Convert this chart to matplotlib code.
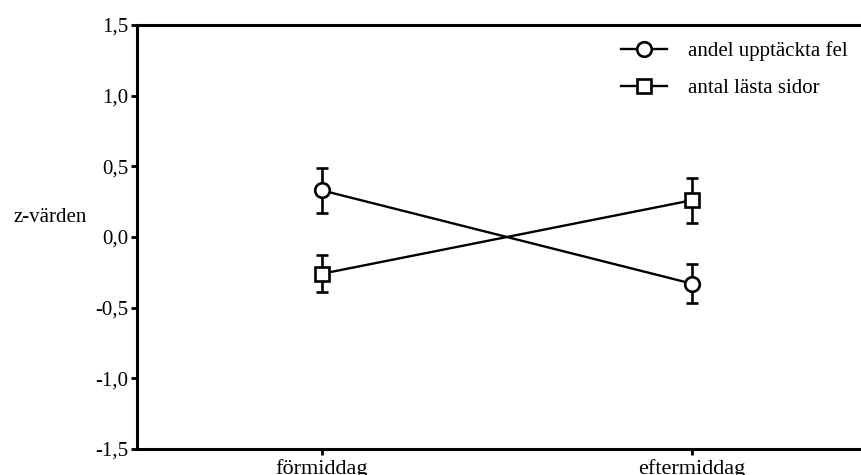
import matplotlib.pyplot as plt

plt.rcParams['font.family'] = ['Liberation Serif', 'DejaVu Serif']

# data
tider = ['förmiddag', 'eftermiddag']
fel_medel = [0.33, -0.33]
fel_err = [0.16, 0.14]
sidor_medel = [-0.26, 0.26]
sidor_err = [0.13, 0.16]
y_ticks = [-1.5, -1.0, -0.5, 0.0, 0.5, 1.0, 1.5]
y_labels = ['-1,5', '-1,0', '-0,5', '0,0', '0,5', '1,0', '1,5']

fig = plt.figure(figsize=(8.62, 4.75), dpi=100)
ax = fig.add_axes([137 / 862, 26 / 475, 725 / 862, 424 / 475])

x = list(range(len(tider)))
style = dict(color='black', lw=1.7, ms=10.5, mfc='white', mec='black', mew=1.9,
             ecolor='black', elinewidth=1.9, capsize=4, capthick=2.2)
c1 = ax.errorbar(x, fel_medel, yerr=fel_err, marker='o', label='andel upptäckta fel', **style)
c2 = ax.errorbar(x, sidor_medel, yerr=sidor_err, marker='s', label='antal lästa sidor', **style)

ax.set_xlim(-0.5, 1.46)
ax.set_ylim(-1.5, 1.5)
ax.set_xticks(x)
ax.set_xticklabels(tider)
ax.set_yticks(y_ticks)
ax.set_yticklabels(y_labels)

for side in ['left', 'top', 'bottom']:
    ax.spines[side].set_linewidth(2.2)
ax.spines['right'].set_visible(False)
ax.tick_params(axis='both', width=2, length=4.5, pad=1.5)
ax.tick_params(axis='y', labelsize=15)
ax.tick_params(axis='x', labelsize=16, pad=2.5)

ax.set_ylabel('z-värden', rotation=0, fontsize=15, ha='center', va='center')
ax.yaxis.set_label_coords(-0.12, 0.545)

ax.legend(handles=[c1[0], c2[0]], labels=['andel upptäckta fel', 'antal lästa sidor'],
          loc='upper left', bbox_to_anchor=((621 - 137) / 725, (449 - 41) / 424),
          frameon=False, fontsize=15, handlelength=2.2, handletextpad=1.0,
          labelspacing=0.85, borderpad=0, borderaxespad=0)

fig.savefig('out.png', dpi=100)
